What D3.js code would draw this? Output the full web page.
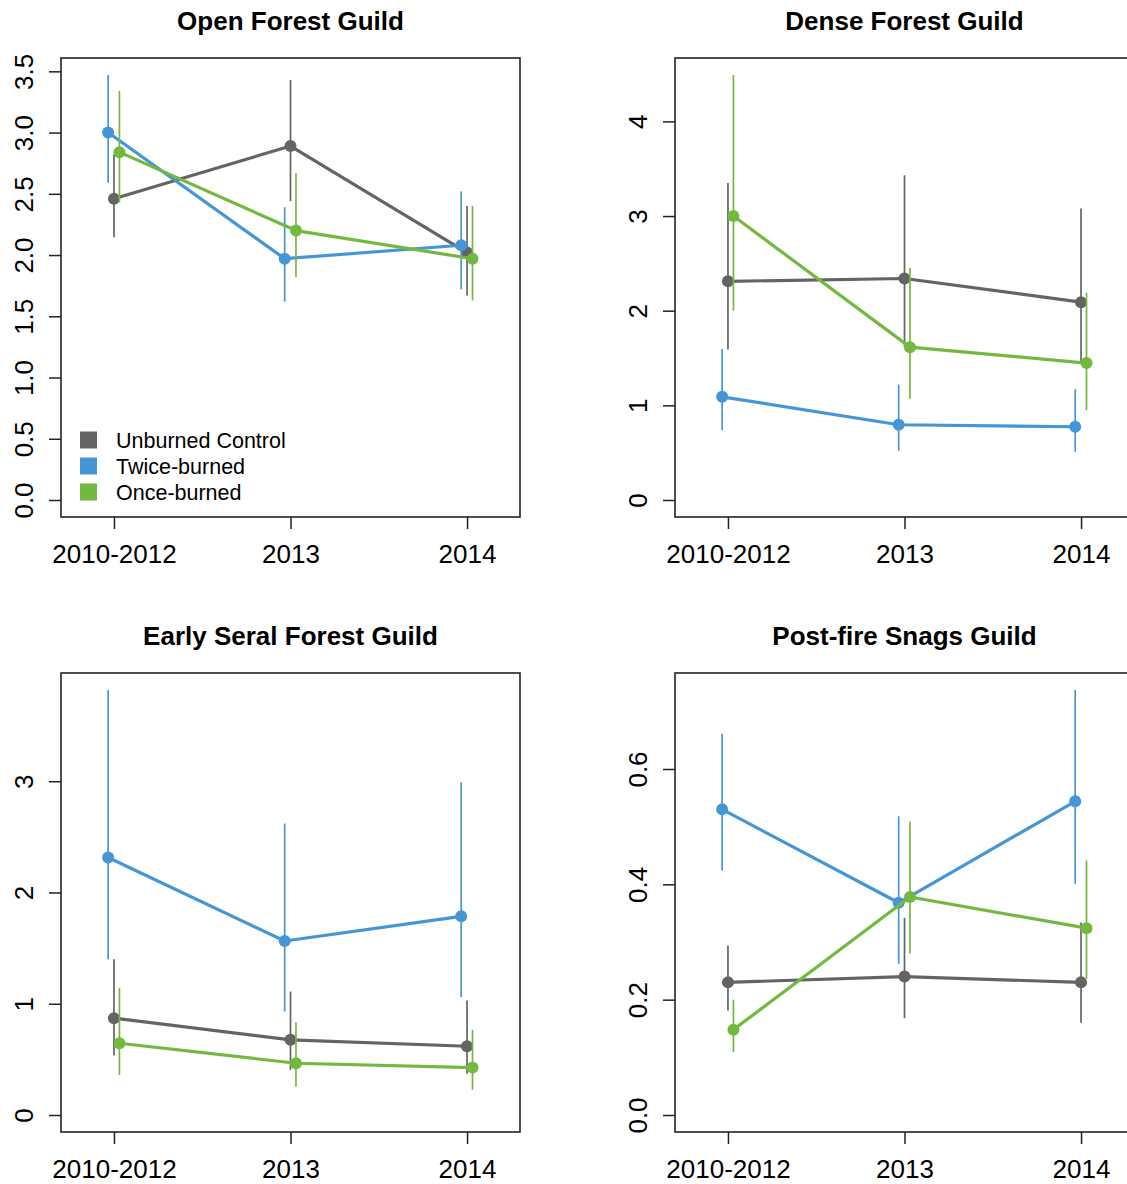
<!DOCTYPE html>
<html>
<head>
<meta charset="utf-8">
<script src="https://cdn.jsdelivr.net/npm/d3@7"></script>
<style>
  html, body { margin: 0; padding: 0; background: #fff; }
  svg { display: block; font-family: "Liberation Sans", Arial, Helvetica, sans-serif; }
</style>
</head>
<body>
<svg id="chart" width="1127" height="1184"></svg>
<script>
// Sampling periods and treatment groups
const periods = ["2010-2012", "2013", "2014"];
const groups = ["Unburned Control", "Twice-burned", "Once-burned"];
const groupColors = ["#646464", "#4596D6", "#73B940"];
// Small horizontal dodge per group (fraction of the period step)
const groupDodge = [0, -0.033, 0.031];

const guildTitles = ["Open Forest Guild", "Dense Forest Guild", "Early Seral Forest Guild", "Post-fire Snags Guild"];

// Rows: Unburned Control, Twice-burned, Once-burned; columns: periods
const openMean  = [[2.46, 2.89, 2.02], [3.00, 1.97, 2.08], [2.84, 2.20, 1.97]];
const openLower = [[2.145, 2.44, 1.67], [2.59, 1.62, 1.72], [2.43, 1.82, 1.63]];
const openUpper = [[2.82, 3.43, 2.40], [3.47, 2.39, 2.52], [3.34, 2.67, 2.40]];
const openTicks = [0, 0.5, 1, 1.5, 2, 2.5, 3, 3.5];

const denseMean  = [[2.31, 2.34, 2.09], [1.09, 0.795, 0.774], [3.00, 1.615, 1.447]];
const denseLower = [[1.59, 1.62, 1.45], [0.74, 0.52, 0.51], [2.00, 1.07, 0.95]];
const denseUpper = [[3.35, 3.43, 3.08], [1.595, 1.22, 1.17], [4.49, 2.45, 2.19]];
const denseTicks = [0, 1, 2, 3, 4];

const seralMean  = [[0.87, 0.676, 0.618], [2.315, 1.564, 1.786], [0.645, 0.465, 0.426]];
const seralLower = [[0.534, 0.405, 0.37], [1.40, 0.93, 1.06], [0.36, 0.255, 0.228]];
const seralUpper = [[1.40, 1.11, 1.03], [3.82, 2.62, 2.99], [1.14, 0.834, 0.766]];
const seralTicks = [0, 1, 2, 3];

const snagMean  = [[0.230, 0.240, 0.230], [0.530, 0.368, 0.544], [0.148, 0.378, 0.324]];
const snagLower = [[0.181, 0.168, 0.160], [0.424, 0.262, 0.401], [0.109, 0.280, 0.236]];
const snagUpper = [[0.294, 0.342, 0.334], [0.661, 0.518, 0.737], [0.200, 0.509, 0.4415]];
const snagTicks = [0, 0.2, 0.4, 0.6];

const panels = [
  { title: guildTitles[0], mean: openMean,  lower: openLower,  upper: openUpper,  ticks: openTicks,  fmt: d3.format(".1f"), col: 0, row: 0, legend: true },
  { title: guildTitles[1], mean: denseMean, lower: denseLower, upper: denseUpper, ticks: denseTicks, fmt: d3.format("d"),   col: 1, row: 0 },
  { title: guildTitles[2], mean: seralMean, lower: seralLower, upper: seralUpper, ticks: seralTicks, fmt: d3.format("d"),   col: 0, row: 1 },
  { title: guildTitles[3], mean: snagMean,  lower: snagLower,  upper: snagUpper,  ticks: snagTicks,  fmt: d3.format(".1f"), col: 1, row: 1 }
];

const svg = d3.select("#chart");
svg.append("rect").attr("width", 1127).attr("height", 1184).attr("fill", "#fff");

const boxW = 459, boxH = 459;
const originX = [61, 675], originY = [58, 673];
const axisColor = "#222";
const fontSize = 26;

panels.forEach(p => {
  const left = originX[p.col], top = originY[p.row];
  const g = svg.append("g").attr("transform", `translate(${left},${top})`);

  const x = d3.scalePoint().domain(periods).range([0, boxW]).padding(0.3);
  const ymax = d3.max(p.upper.flat());
  const y = d3.scaleLinear().domain([-0.04 * ymax, 1.04 * ymax]).range([boxH, 0]);
  const step = x.step();

  // Title
  g.append("text")
    .attr("x", boxW / 2).attr("y", -28)
    .attr("text-anchor", "middle")
    .attr("font-weight", "bold")
    .attr("font-size", fontSize)
    .attr("fill", "#000")
    .text(p.title);

  // Y axis with rotated labels
  const yAxis = g.append("g").call(
    d3.axisLeft(y).tickValues(p.ticks).tickFormat(p.fmt).tickSize(12).tickSizeOuter(0)
  );
  yAxis.select(".domain").remove();
  yAxis.selectAll(".tick line").attr("stroke", axisColor).attr("stroke-width", 1.5);
  yAxis.selectAll(".tick text")
    .attr("x", null).attr("dy", null)
    .attr("transform", "translate(-28,0) rotate(-90)")
    .attr("text-anchor", "middle")
    .attr("font-size", fontSize)
    .attr("font-family", "Liberation Sans, Arial, sans-serif")
    .attr("fill", "#000");

  // X axis
  const xAxis = g.append("g").attr("transform", `translate(0,${boxH})`).call(
    d3.axisBottom(x).tickSize(12).tickSizeOuter(0)
  );
  xAxis.select(".domain").remove();
  xAxis.selectAll(".tick line").attr("stroke", axisColor).attr("stroke-width", 1.5);
  xAxis.selectAll(".tick text")
    .attr("y", 46).attr("dy", null)
    .attr("font-size", fontSize)
    .attr("font-family", "Liberation Sans, Arial, sans-serif")
    .attr("fill", "#000");

  // Series: error bars, connecting line, points
  const xpos = (gi, pi) => x(periods[pi]) + groupDodge[gi] * step;
  groups.forEach((name, gi) => {
    const color = groupColors[gi];
    const sg = g.append("g");
    sg.selectAll("line.err")
      .data(periods.map((_, pi) => pi))
      .join("line")
      .attr("class", "err")
      .attr("x1", pi => xpos(gi, pi)).attr("x2", pi => xpos(gi, pi))
      .attr("y1", pi => y(p.lower[gi][pi])).attr("y2", pi => y(p.upper[gi][pi]))
      .attr("stroke", color).attr("stroke-width", 1.7);
    const line = d3.line().x(pi => xpos(gi, pi)).y(pi => y(p.mean[gi][pi]));
    sg.append("path")
      .attr("d", line(periods.map((_, pi) => pi)))
      .attr("fill", "none").attr("stroke", color).attr("stroke-width", 3.2)
      .attr("stroke-linejoin", "round");
    sg.selectAll("circle")
      .data(periods.map((_, pi) => pi))
      .join("circle")
      .attr("cx", pi => xpos(gi, pi)).attr("cy", pi => y(p.mean[gi][pi]))
      .attr("r", 6).attr("fill", color);
  });

  // Plot frame
  g.append("rect")
    .attr("x", 0).attr("y", 0).attr("width", boxW).attr("height", boxH)
    .attr("fill", "none").attr("stroke", axisColor).attr("stroke-width", 1.6);

  // Legend
  if (p.legend) {
    const lg = g.append("g").attr("transform", "translate(19,382)");
    groups.forEach((name, gi) => {
      lg.append("rect")
        .attr("x", 0).attr("y", gi * 26 - 8.5).attr("width", 17).attr("height", 17)
        .attr("fill", groupColors[gi]);
      lg.append("text")
        .attr("x", 36).attr("y", gi * 26)
        .attr("dy", "0.36em")
        .attr("font-size", 21.5)
        .attr("fill", "#000")
        .text(name);
    });
  }
});
</script>
</body>
</html>
